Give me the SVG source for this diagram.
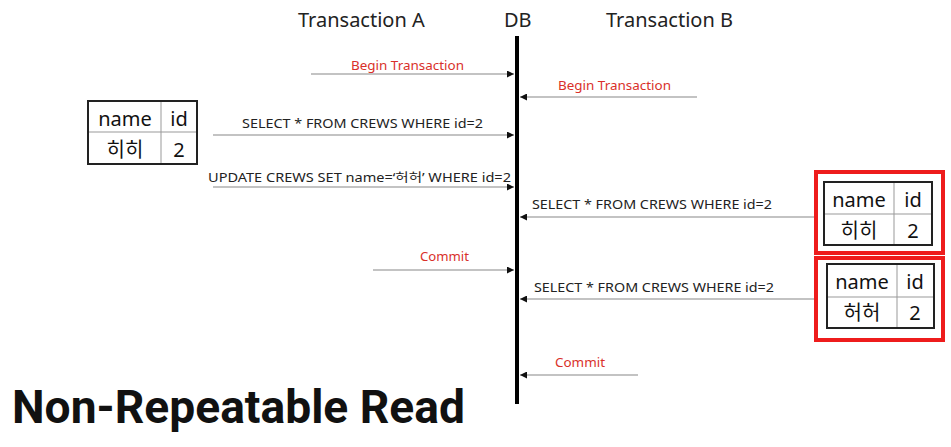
<svg xmlns="http://www.w3.org/2000/svg" width="951" height="447" viewBox="0 0 951 447">
<defs>
<marker id="ah" viewBox="0 0 10 10" refX="10" refY="5" markerWidth="7" markerHeight="7" markerUnits="userSpaceOnUse" orient="auto">
<path d="M0,0 L10,5 L0,10 z" fill="#111"/>
</marker>
<style>
.hdr{font-family:"Noto Sans","Noto Sans CJK KR",sans-serif;font-size:20px;fill:#222}
.lbl{font-family:"Noto Sans","Noto Sans CJK KR",sans-serif;font-size:12.5px;fill:#222}
.red{fill:#d9302a}
.msg{stroke:#888;stroke-width:1.2;fill:none;marker-end:url(#ah)}
.tb{fill:#fff;stroke:#222;stroke-width:2}
.tl{stroke:#999;stroke-width:1}
.cell{font-family:"Noto Sans","Noto Sans CJK KR",sans-serif;font-size:20px;fill:#111;text-anchor:middle}
.hl{fill:none;stroke:#ee1c1c;stroke-width:4}
.title{font-family:"Roboto","DejaVu Sans",sans-serif;font-weight:700;font-size:46px;fill:#111}
</style>
</defs>
<rect width="951" height="447" fill="#fff"/>
<g id="headers">
<text class="hdr" x="298" y="27">Transaction A</text>
<text class="hdr" x="504" y="27">DB</text>
<text class="hdr" x="606" y="27">Transaction B</text>
</g>
<g id="db-lifeline">
<rect x="515" y="36" width="4" height="368" fill="#000"/>
</g>
<g id="connectors">
<line class="msg" x1="311" y1="74" x2="514" y2="74"/>
<line class="msg" x1="697" y1="97" x2="520" y2="97"/>
<line class="msg" x1="213" y1="135" x2="514" y2="135"/>
<line class="msg" x1="213" y1="187" x2="514" y2="187"/>
<line class="msg" x1="816" y1="217" x2="520" y2="217"/>
<line class="msg" x1="373" y1="270" x2="514" y2="270"/>
<line class="msg" x1="816" y1="299" x2="520" y2="299"/>
<line class="msg" x1="638" y1="375" x2="520" y2="375"/>
</g>
<g id="labels">
<text class="lbl red" x="351" y="70" textLength="113" lengthAdjust="spacingAndGlyphs">Begin Transaction</text>
<text class="lbl red" x="558" y="90" textLength="113" lengthAdjust="spacingAndGlyphs">Begin Transaction</text>
<text class="lbl" x="242" y="128" textLength="241" lengthAdjust="spacingAndGlyphs">SELECT * FROM CREWS WHERE id=2</text>
<text class="lbl" x="208" y="182" textLength="303" lengthAdjust="spacingAndGlyphs">UPDATE CREWS SET name=‘허허’ WHERE id=2</text>
<text class="lbl" x="532" y="209" textLength="240" lengthAdjust="spacingAndGlyphs">SELECT * FROM CREWS WHERE id=2</text>
<text class="lbl red" x="420" y="261" textLength="49" lengthAdjust="spacingAndGlyphs">Commit</text>
<text class="lbl" x="534" y="292" textLength="240" lengthAdjust="spacingAndGlyphs">SELECT * FROM CREWS WHERE id=2</text>
<text class="lbl red" x="555" y="367" textLength="50" lengthAdjust="spacingAndGlyphs">Commit</text>
</g>
<g id="table-a">
<rect class="tb" x="88" y="101" width="109" height="63"/>
<line class="tl" x1="89" y1="132" x2="196" y2="132"/>
<line class="tl" x1="161" y1="102" x2="161" y2="163"/>
<text class="cell" x="125" y="126">name</text>
<text class="cell" x="179" y="126">id</text>
<text class="cell" x="125" y="157">히히</text>
<text class="cell" x="179" y="157">2</text>
</g>
<g id="table-b1">
<rect class="hl" x="816" y="172" width="127" height="81"/>
<rect class="tb" x="824" y="182" width="108" height="63"/>
<line class="tl" x1="825" y1="214" x2="931" y2="214"/>
<line class="tl" x1="894" y1="183" x2="894" y2="244"/>
<text class="cell" x="859" y="207">name</text>
<text class="cell" x="913" y="207">id</text>
<text class="cell" x="859" y="238">히히</text>
<text class="cell" x="913" y="238">2</text>
</g>
<g id="table-b2">
<rect class="hl" x="816" y="258" width="127" height="82"/>
<rect class="tb" x="827" y="264" width="107" height="64"/>
<line class="tl" x1="828" y1="297" x2="933" y2="297"/>
<line class="tl" x1="897" y1="265" x2="897" y2="327"/>
<text class="cell" x="862" y="289">name</text>
<text class="cell" x="915" y="289">id</text>
<text class="cell" x="862" y="320">허허</text>
<text class="cell" x="915" y="320">2</text>
</g>
<g id="title">
<text class="title" x="12" y="423" textLength="453" lengthAdjust="spacingAndGlyphs">Non-Repeatable Read</text>
</g>
</svg>
